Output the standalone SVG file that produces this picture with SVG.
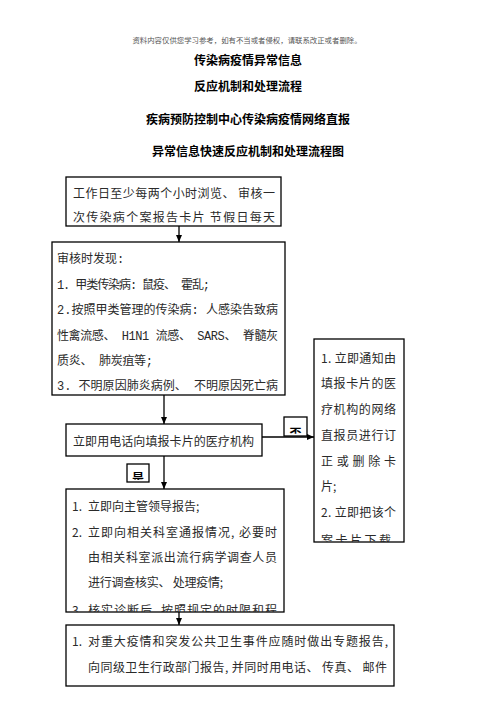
<svg xmlns="http://www.w3.org/2000/svg" width="496" height="702" viewBox="0 0 496 702">
<style>
.bx{fill:#fff;stroke:#000;stroke-width:1.3}
.t{font-family:"Noto Sans CJK SC","Noto Sans",sans-serif;font-size:12px;fill:#2a2a2a}
.m{font-family:"Liberation Mono","Noto Sans CJK SC",monospace;font-size:12px;fill:#2a2a2a}
.h{font-family:"Noto Sans CJK SC",sans-serif;font-size:12px;font-weight:bold;fill:#000;text-anchor:middle}
.c{stroke:#000;stroke-width:1.3;fill:none}
</style>
<defs>
<marker id="ah" markerWidth="8" markerHeight="8" refX="7" refY="4" orient="auto" markerUnits="userSpaceOnUse">
<path d="M0,1 L7,4 L0,7 Z" fill="#000"/>
</marker>
<clipPath id="c1"><rect x="66" y="177" width="215" height="45.5"/></clipPath>
<clipPath id="c2"><rect x="52" y="242" width="233" height="153"/></clipPath>
<clipPath id="c4"><rect x="66" y="489" width="218" height="123"/></clipPath>
<clipPath id="c5"><rect x="66" y="625" width="328" height="61"/></clipPath>
<clipPath id="cr"><rect x="314" y="339" width="90" height="203"/></clipPath>
<clipPath id="cn"><rect x="284" y="417" width="23" height="17"/></clipPath>
<clipPath id="cy"><rect x="127" y="464" width="22" height="16"/></clipPath>
</defs>

<g id="header">
<text x="247" y="43" style="font-family:'Noto Sans CJK SC',sans-serif;font-size:7.4px;fill:#555" text-anchor="middle">资料内容仅供您学习参考，如有不当或者侵权，请联系改正或者删除。</text>
<text class="h" x="248" y="65">传染病疫情异常信息</text>
<text class="h" x="248" y="90.5">反应机制和处理流程</text>
<text class="h" x="248" y="123.5">疾病预防控制中心传染病疫情网络直报</text>
<text class="h" x="248" y="155.5">异常信息快速反应机制和处理流程图</text>
</g>

<g id="connectors">
<line class="c" x1="179" y1="226" x2="179" y2="242" marker-end="url(#ah)"/>
<line class="c" x1="164" y1="395" x2="164" y2="424" marker-end="url(#ah)"/>
<line class="c" x1="164" y1="456" x2="164" y2="489" marker-end="url(#ah)"/>
<line class="c" x1="179" y1="612" x2="179" y2="625" marker-end="url(#ah)"/>
<line class="c" x1="262" y1="437" x2="314" y2="437" marker-end="url(#ah)"/>
</g>

<g id="label-no">
<rect class="bx" x="284" y="417" width="23" height="19"/>
<text class="h" x="295.5" y="438" clip-path="url(#cn)">否</text>
</g>
<g id="label-yes">
<rect class="bx" x="127" y="464" width="22" height="18"/>
<text class="h" x="138" y="483" clip-path="url(#cy)">是</text>
</g>

<g id="node-browse">
<rect class="bx" x="66" y="177" width="215" height="49"/>
<g clip-path="url(#c1)">
<text class="t" x="73" y="197.5" textLength="202" lengthAdjust="spacing">工作日至少每两个小时浏览、 审核一</text>
<text class="t" x="73" y="221.8" textLength="202" lengthAdjust="spacing">次传染病个案报告卡片   节假日每天</text>
</g>
</g>

<g id="node-findings">
<rect class="bx" x="52" y="242" width="233" height="153"/>
<g clip-path="url(#c2)">
<text class="m" x="57" y="262.5">审核时发现:</text>
<text class="m" x="57" y="288.5" textLength="153" lengthAdjust="spacing">1. 甲类传染病: 鼠疫、 霍乱;</text>
<text class="m" x="57" y="314" textLength="221" lengthAdjust="spacing">2.按照甲类管理的传染病: 人感染告致病</text>
<text class="m" x="57" y="339.5" textLength="221" lengthAdjust="spacing">性禽流感、 H1N1 流感、 SARS、 脊髓灰</text>
<text class="m" x="57" y="364.5" textLength="96" lengthAdjust="spacing">质炎、 肺炭疽等;</text>
<text class="m" x="57" y="389.5" textLength="221" lengthAdjust="spacing">3. 不明原因肺炎病例、 不明原因死亡病</text>
</g>
</g>

<g id="node-phone">
<rect class="bx" x="66" y="424" width="196" height="32"/>
<text class="t" x="73" y="446" textLength="181" lengthAdjust="spacing">立即用电话向填报卡片的医疗机构</text>
</g>

<g id="node-correct">
<rect class="bx" x="314" y="339" width="90" height="203"/>
<g clip-path="url(#cr)">
<text class="t" x="321" y="362.5" textLength="75" lengthAdjust="spacing">1. 立即通知由</text>
<text class="t" x="321" y="388" textLength="75" lengthAdjust="spacing">填报卡片的医</text>
<text class="t" x="321" y="413.5" textLength="75" lengthAdjust="spacing">疗机构的网络</text>
<text class="t" x="321" y="439.5" textLength="75" lengthAdjust="spacing">直报员进行订</text>
<text class="t" x="321" y="465.5" textLength="75" lengthAdjust="spacing">正或删除卡</text>
<text class="t" x="321" y="491">片;</text>
<text class="t" x="321" y="516.5" textLength="75" lengthAdjust="spacing">2. 立即把该个</text>
<text class="t" x="321" y="545" textLength="70" lengthAdjust="spacing">案卡片下载</text>
</g>
</g>

<g id="node-report">
<rect class="bx" x="66" y="489" width="218" height="123"/>
<g clip-path="url(#c4)">
<text class="t" x="72" y="511">1.</text>
<text class="t" x="88" y="511">立即向主管领导报告;</text>
<text class="t" x="72" y="537">2.</text>
<text class="t" x="88" y="537" textLength="189" lengthAdjust="spacing">立即向相关科室通报情况, 必要时</text>
<text class="t" x="88" y="562" textLength="189" lengthAdjust="spacing">由相关科室派出流行病学调查人员</text>
<text class="t" x="88" y="587" textLength="135" lengthAdjust="spacing">进行调查核实、 处理疫情;</text>
<text class="t" x="72" y="615">3.</text>
<text class="t" x="88" y="615" textLength="189" lengthAdjust="spacing">核实诊断后, 按照规定的时限和程</text>
</g>
</g>

<g id="node-major">
<rect class="bx" x="66" y="625" width="328" height="61"/>
<g clip-path="url(#c5)">
<text class="t" x="72" y="645.5">1.</text>
<text class="t" x="88" y="645.5" textLength="300" lengthAdjust="spacing">对重大疫情和突发公共卫生事件应随时做出专题报告,</text>
<text class="t" x="88" y="671.5" textLength="299" lengthAdjust="spacing">向同级卫生行政部门报告, 并同时用电话、 传真、 邮件</text>
</g>
</g>
</svg>
